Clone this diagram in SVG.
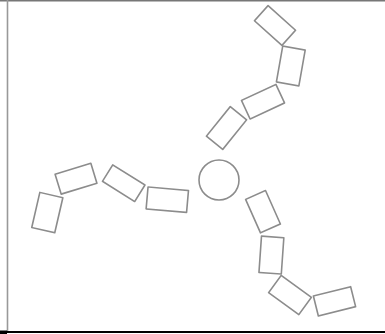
<svg xmlns="http://www.w3.org/2000/svg" width="385" height="334" viewBox="0 0 385 334">
<style>
.b{fill:none;stroke:#8c8c8c;stroke-width:1.6;stroke-linejoin:round}
</style>
<rect x="0" y="0" width="385" height="334" fill="#fff"/>
<g id="frame">
<line x1="0" y1="0.8" x2="385" y2="0.8" stroke="#777" stroke-width="1.6"/>
<line x1="7.5" y1="0" x2="7.5" y2="331" stroke="#999" stroke-width="1.6"/>
<rect x="0" y="331" width="385" height="2" fill="#000"/>
<rect x="0" y="330.5" width="7" height="3.5" fill="#000"/>
</g>
<g id="hub"><circle class="b" cx="219" cy="180" r="20"/></g>
<g id="u1" transform="translate(226.5,128) rotate(-51)"><rect class="b" x="-19" y="-10.5" width="38" height="21"/></g>
<g id="u2" transform="translate(263,101.7) rotate(-25)"><rect class="b" x="-19" y="-10.2" width="38" height="20.4"/></g>
<g id="u3" transform="translate(290.8,66) rotate(10)"><rect class="b" x="-11.4" y="-18.2" width="22.8" height="36.4"/></g>
<g id="u4" transform="translate(275,25.5) rotate(42)"><rect class="b" x="-18.5" y="-10.2" width="37" height="20.4"/></g>
<g id="l1" transform="translate(167.3,199.7) rotate(5)"><rect class="b" x="-20.3" y="-11" width="40.6" height="22"/></g>
<g id="l2" transform="translate(123.7,183.2) rotate(32)"><rect class="b" x="-19" y="-9.7" width="38" height="19.4"/></g>
<g id="l3" transform="translate(76,178.7) rotate(-17)"><rect class="b" x="-18.7" y="-10.4" width="37.4" height="20.8"/></g>
<g id="l4" transform="translate(47.3,212.6) rotate(13)"><rect class="b" x="-11.8" y="-18" width="23.6" height="36"/></g>
<g id="d1" transform="translate(263,211.7) rotate(-24)"><rect class="b" x="-10.9" y="-18.3" width="21.8" height="36.6"/></g>
<g id="d2" transform="translate(271.4,255.1) rotate(4)"><rect class="b" x="-11.2" y="-18.2" width="22.4" height="36.4"/></g>
<g id="d3" transform="translate(290,295) rotate(36)"><rect class="b" x="-18.7" y="-10.7" width="37.4" height="21.4"/></g>
<g id="d4" transform="translate(334.5,301.3) rotate(-14)"><rect class="b" x="-19.2" y="-10.3" width="38.4" height="20.6"/></g>
<g id="connectors"/>
</svg>
